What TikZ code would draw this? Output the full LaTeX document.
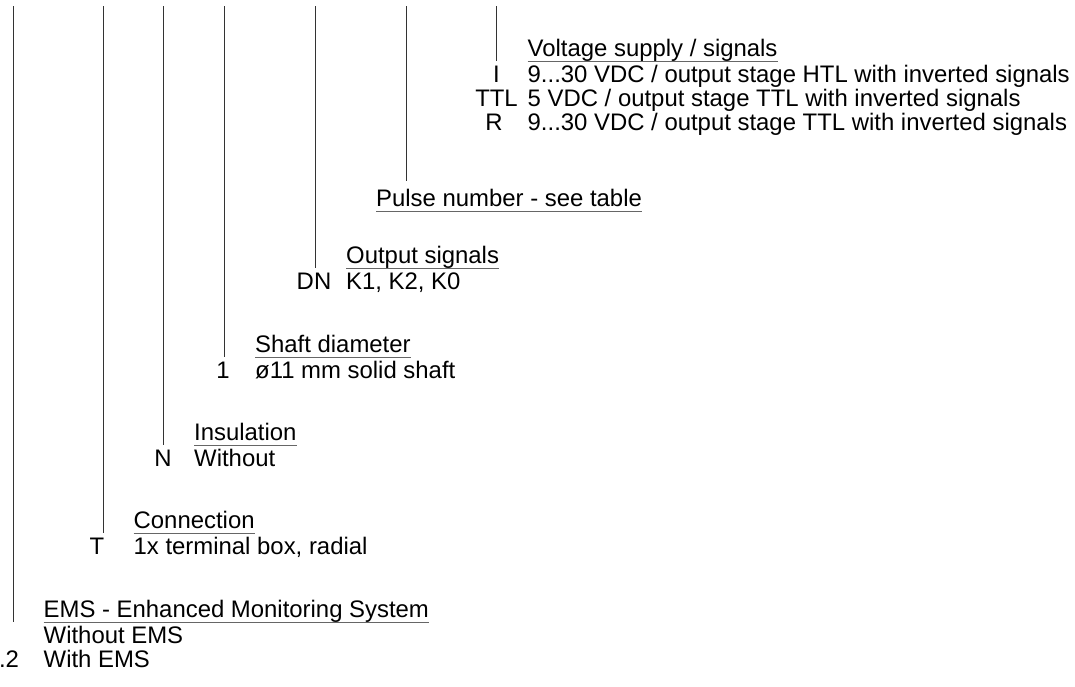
\documentclass[tikz,border=0pt]{standalone}
\usepackage{fontspec}
\setmainfont{Liberation Sans}
\begin{document}
\begin{tikzpicture}[x=1pt,y=-1pt,
  every node/.style={inner sep=0pt, font=\fontsize{23.9}{24}\selectfont, text=black},
  guide/.style={draw=black!80, line width=1pt},
  uline/.style={draw=black!60, line width=1.3pt},
  hdr/.style={anchor=base west, inner xsep=0pt, inner ysep=4.5pt, text depth=0pt},
  code/.style={anchor=base},
  desc/.style={anchor=base west}]
\useasboundingbox (0,0) rectangle (1075,686);
% tops of the guide lines
\coordinate (t1) at (13,6);
\coordinate (t2) at (103,6);
\coordinate (t3) at (163,6);
\coordinate (t4) at (224,6);
\coordinate (t5) at (315,6);
\coordinate (t6) at (406,6);
\coordinate (t7) at (496.5,6);
\coordinate (e6) at (406,181);
% Voltage supply
\node[hdr] (h7) at (527.5,56.5) {Voltage supply / signals};
\node[code] (c7a) at (496.5,82) {I};
\node[desc] (d7a) at (527.5,82) {9...30 VDC / output stage HTL with inverted signals};
\node[code] (c7b) at (496.5,106) {TTL};
\node[desc] (d7b) at (527.5,106) {5 VDC / output stage TTL with inverted signals};
\node[code] (c7c) at (494,130) {R};
\node[desc] (d7c) at (527.5,130) {9...30 VDC / output stage TTL with inverted signals};
% Pulse number
\node[hdr] (h6) at (376,206.5) {Pulse number - see table};
% Output signals
\node[hdr] (h5) at (346,263.5) {Output signals};
\node[code] (c5a) at (314,289) {DN};
\node[desc] (d5a) at (346,289) {K1, K2, K0};
% Shaft diameter
\node[hdr] (h4) at (255,352.5) {Shaft diameter};
\node[code] (c4a) at (223,378) {1};
\node[desc] (d4a) at (255,378) {ø11 mm solid shaft};
% Insulation
\node[hdr] (h3) at (194,440.5) {Insulation};
\node[code] (c3a) at (163,466) {N};
\node[desc] (d3a) at (194,466) {Without};
% Connection
\node[hdr] (h2) at (133.5,528.5) {Connection};
\node[code] (c2a) at (97,554) {T};
\node[desc] (d2a) at (133.5,554) {1x terminal box, radial};
% EMS
\node[hdr] (h1) at (43.5,617.5) {EMS - Enhanced Monitoring System};
\node[desc] (d1a) at (43.5,643) {Without EMS};
\node[code] (c1b) at (9,667) {.2};
\node[desc] (d1b) at (43.5,667) {With EMS};
% underlines
\foreach \h in {h1,h2,h3,h4,h5,h6,h7}
  \draw[uline] (\h.south west) -- (\h.south east);
% guide lines
\draw[guide] (t1) -- (t1 |- h1.south);
\draw[guide] (t2) -- (t2 |- h2.south);
\draw[guide] (t3) -- (t3 |- h3.south);
\draw[guide] (t4) -- (t4 |- h4.south);
\draw[guide] (t5) -- (t5 |- h5.south);
\draw[guide] (t6) -- (e6);
\draw[guide] (t7) -- (t7 |- h7.south);
\end{tikzpicture}
\end{document}
